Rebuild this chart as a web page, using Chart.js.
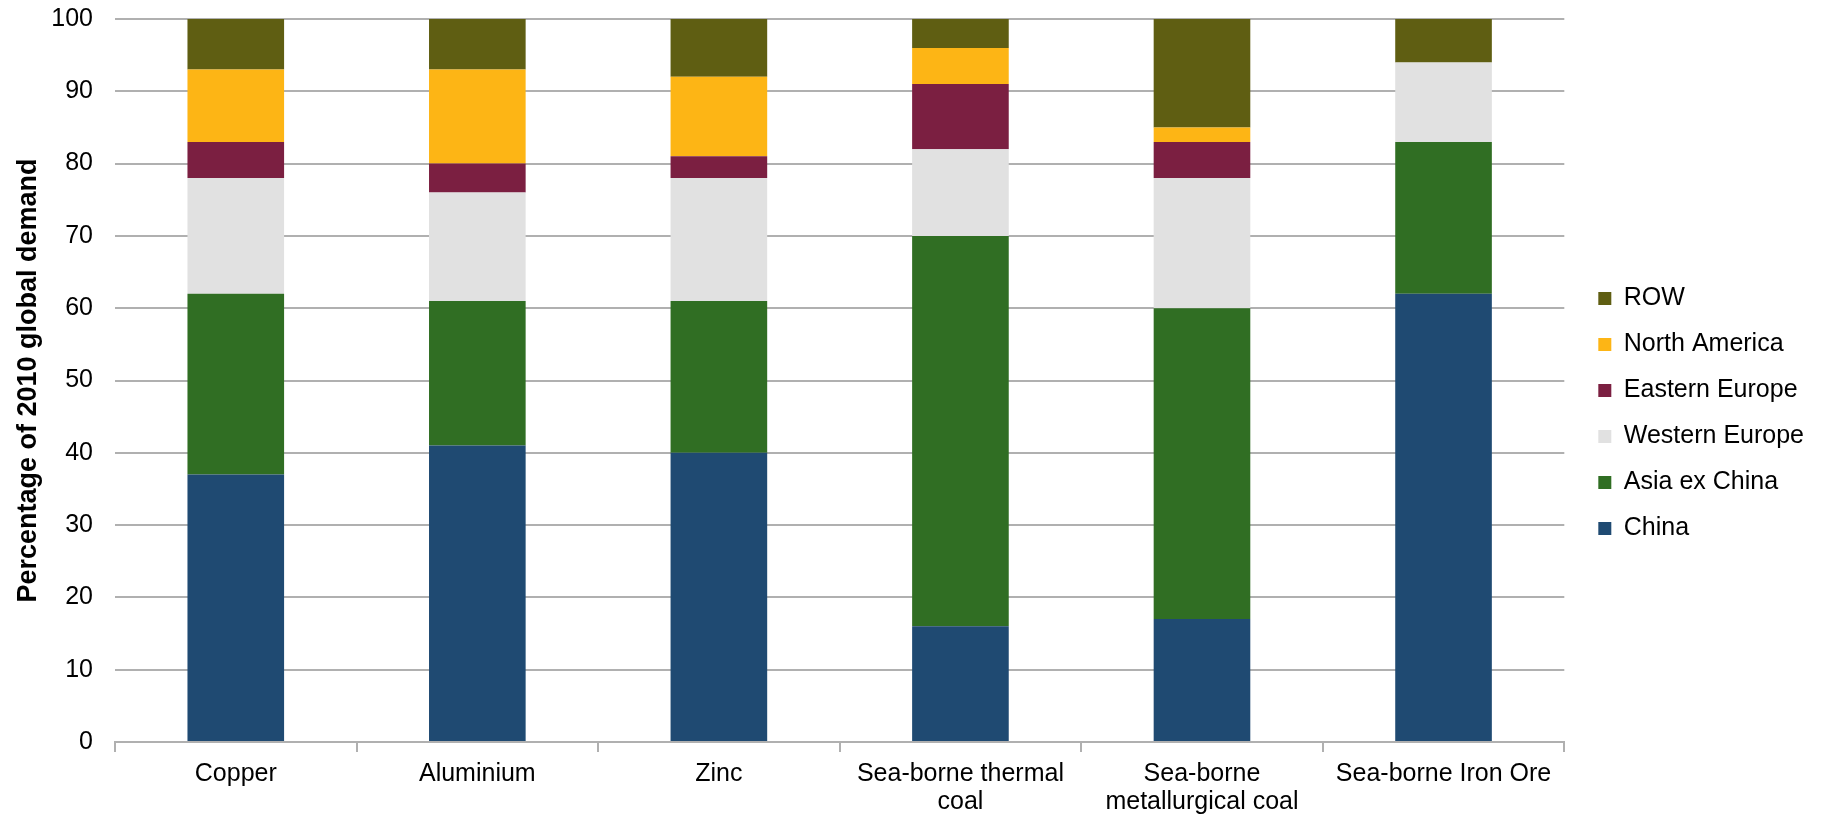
<!DOCTYPE html>
<html>
<head>
<meta charset="utf-8">
<script src="https://cdn.jsdelivr.net/npm/chart.js@4.4.0/dist/chart.umd.min.js"></script>
<style>
  html, body { margin: 0; padding: 0; background: #fff; }
  #wrap { width: 1829px; height: 818px; }
</style>
</head>
<body>
<div id="wrap"><canvas id="chart" width="1829" height="818"></canvas></div>
<script>
// categories and shares of 2010 global demand (%)
const categories = [
  'Copper',
  'Aluminium',
  'Zinc',
  ['Sea-borne thermal', 'coal'],
  ['Sea-borne', 'metallurgical coal'],
  'Sea-borne Iron Ore'
];
const china         = [37, 41, 40, 16, 17, 62];
const asiaExChina   = [25, 20, 21, 54, 43, 21];
const westernEurope = [16, 15, 17, 12, 18, 11];
const easternEurope = [5, 4, 3, 9, 5, 0];
const northAmerica  = [10, 13, 11, 5, 2, 0];
const row           = [7, 7, 8, 4, 15, 6];
const yTicks = [0, 10, 20, 30, 40, 50, 60, 70, 80, 90, 100];

const FONT = 'Liberation Sans, Arial, sans-serif';

const makeSet = (label, data, color) => ({
  label: label,
  data: data,
  backgroundColor: color,
  borderWidth: 0,
  barPercentage: 0.8,
  categoryPercentage: 0.5
});

const ctx = document.getElementById('chart').getContext('2d');
new Chart(ctx, {
  type: 'bar',
  data: {
    labels: categories,
    datasets: [
      makeSet('China', china, '#1f4a72'),
      makeSet('Asia ex China', asiaExChina, '#306e23'),
      makeSet('Western Europe', westernEurope, '#e1e1e1'),
      makeSet('Eastern Europe', easternEurope, '#7b1f41'),
      makeSet('North America', northAmerica, '#fdb515'),
      makeSet('ROW', row, '#5f5e12')
    ]
  },
  options: {
    responsive: false,
    animation: false,
    layout: { padding: { top: 9, right: 15, bottom: 0, left: 0 } },
    plugins: {
      tooltip: { enabled: false },
      legend: {
        position: 'right',
        reverse: true,
        labels: {
          boxWidth: 13,
          boxHeight: 13,
          padding: 21,
          color: '#000',
          font: { family: FONT, size: 25 }
        }
      }
    },
    scales: {
      x: {
        stacked: true,
        afterFit: (axis) => { axis.height = 76; },
        grid: {
          display: true,
          drawOnChartArea: false,
          offset: true,
          tickLength: 10,
          lineWidth: 2,
          color: '#b0b0b0'
        },
        border: { color: '#b0b0b0', width: 2 },
        ticks: {
          color: '#000',
          maxRotation: 0,
          padding: 8,
          font: { family: FONT, size: 25, lineHeight: 1.12 }
        }
      },
      y: {
        stacked: true,
        min: 0,
        max: 100,
        afterBuildTicks: (axis) => { axis.ticks = yTicks.map(v => ({ value: v })); },
        afterFit: (axis) => { axis.width = 115; },
        grid: {
          color: '#b0b0b0',
          lineWidth: 2,
          drawTicks: true,
          tickLength: 18,
          tickColor: 'rgba(0,0,0,0)'
        },
        border: { display: false },
        ticks: {
          color: '#000',
          padding: 4,
          font: { family: FONT, size: 25 }
        },
        title: {
          display: true,
          text: 'Percentage of 2010 global demand',
          color: '#000',
          padding: { top: 12, bottom: 6 },
          font: { family: FONT, size: 27, weight: 'bold' }
        }
      },
      // empty axis, only keeps a gap between the plot and the legend
      gap: {
        type: 'linear',
        position: 'right',
        display: true,
        grid: { display: false },
        border: { display: false },
        ticks: { display: false },
        afterFit: (axis) => { axis.width = 13; }
      }
    }
  }
});
</script>
</body>
</html>
